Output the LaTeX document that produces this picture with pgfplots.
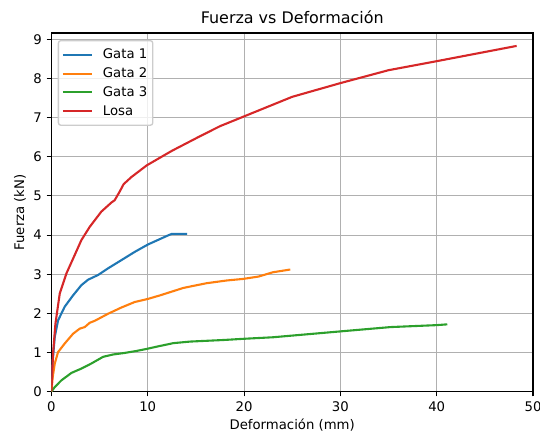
\documentclass[border=0pt]{standalone}
\usepackage{fontspec}
\setmainfont{DejaVu Sans}
\usepackage{pgfplots}
\pgfplotsset{compat=1.18}
\definecolor{tabblue}{HTML}{1F77B4}
\definecolor{taborange}{HTML}{FF7F0E}
\definecolor{tabgreen}{HTML}{2CA02C}
\definecolor{tabred}{HTML}{D62728}
\definecolor{gridc}{HTML}{B0B0B0}
\begin{document}
\begin{tikzpicture}
\useasboundingbox (0,0) rectangle (540bp,432bp);
\begin{axis}[
  at={(51.4bp,40.3bp)}, anchor=south west,
  width=481.6bp, height=358.7bp, scale only axis,
  xmin=0, xmax=50, ymin=0, ymax=9.16,
  xtick={0,10,...,50}, ytick={0,1,...,9},
  tick pos=left, tick align=outside, major tick length=4.7bp,
  grid=major, grid style={color=gridc, line width=1.07bp},
  axis line style={line width=1.07bp, black},
  tick style={line width=1.07bp, black},
  /pgf/number format/assume math mode=true,
  tick label style={font=\fontsize{13.3}{16}\selectfont},
  xticklabel style={inner sep=0pt, anchor=north, yshift=-5.5bp},
  yticklabel style={inner sep=0pt, anchor=east, xshift=-4.7bp},
  label style={font=\fontsize{13.3}{16}\selectfont},
  xlabel={Deformación (mm)},
  ylabel={Fuerza (kN)},
  xlabel style={at={(axis description cs:0.5,0)}, anchor=center, yshift=-33.5bp},
  ylabel style={at={(axis description cs:-0.0652,0.5)}, anchor=center},
  title={Fuerza vs Deformación},
  title style={font=\fontsize{16}{19}\selectfont, at={(axis description cs:0.5,1)}, anchor=center, yshift=9.5bp},
  legend cell align=left,
  legend image code/.code={\draw[#1] (0bp,0bp) -- (29bp,0bp);},
  legend style={at={(0,1)}, anchor=north west, xshift=6.3bp, yshift=-7bp,
    draw=black!20, line width=1.33bp, rounded corners=2.5bp, fill=white, fill opacity=0.8, text opacity=1,
    font=\fontsize{13.3}{16}\selectfont, inner xsep=3.5bp, inner ysep=6.5bp, row sep=3.5bp,
    /tikz/every odd column/.append style={column sep=8bp}},
  every axis plot/.append style={line width=2.1bp, line join=round},
]
\addplot[tabblue] coordinates {
(0,0) (0.14,0.80) (0.35,1.40) (0.69,1.82) (1.38,2.17) (2.25,2.46) (3.11,2.72) (3.81,2.86) (4.84,2.98) (5.88,3.15) (7.27,3.36) (8.65,3.57) (10.03,3.76) (12.1,3.99) (12.5,4.03) (14.1,4.03)
};
\addlegendentry{Gata 1}
\addplot[taborange] coordinates {
(0,0) (0.14,0.38) (0.35,0.72) (0.69,1.01) (1.38,1.23) (2.25,1.48) (2.94,1.61) (3.46,1.65) (3.98,1.76) (4.5,1.81) (5.88,1.99) (7.27,2.15) (8.65,2.29) (10.03,2.37) (11.28,2.46) (13.7,2.65) (16.1,2.77) (18.2,2.84) (19.9,2.88) (21.5,2.94) (23.0,3.05) (24.8,3.12)
};
\addlegendentry{Gata 2}
\addplot[tabgreen] coordinates {
(0,0) (0.35,0.12) (1.04,0.29) (2.08,0.48) (3.11,0.59) (4.15,0.72) (5.36,0.89) (6.4,0.95) (7.61,0.99) (8.82,1.04) (10.03,1.10) (10.93,1.15) (12.66,1.24) (14.4,1.28) (17.85,1.32) (19.9,1.35) (23.0,1.39) (25.8,1.45) (30.0,1.54) (35.2,1.65) (40.0,1.70) (41.1,1.72)
};
\addlegendentry{Gata 3}
\addplot[tabred] coordinates {
(0,0) (0.17,0.97) (0.42,1.74) (0.87,2.51) (1.56,3.02) (2.42,3.49) (3.11,3.87) (3.98,4.21) (5.19,4.60) (6.23,4.83) (6.57,4.89) (7.09,5.11) (7.5,5.30) (8.3,5.48) (9.9,5.78) (12.5,6.15) (15.4,6.52) (17.5,6.78) (20,7.03) (25,7.53) (30,7.88) (35,8.21) (40,8.44) (48.3,8.83)
};
\addlegendentry{Losa}
\end{axis}
\end{tikzpicture}
\end{document}
